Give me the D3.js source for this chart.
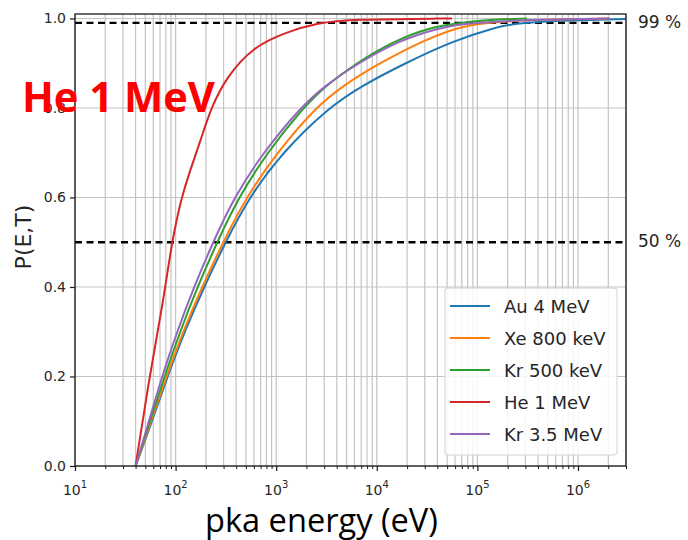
<!DOCTYPE html>
<html>
<head>
<meta charset="utf-8">
<script src="https://cdn.jsdelivr.net/npm/d3@7"></script>
<style>
  html, body { margin: 0; padding: 0; background: #fff; }
  svg { display: block; }
</style>
</head>
<body>
<svg id="chart" width="688" height="540"></svg>
<script>
// Series: P(E,T) as a function of pka energy (eV), one array per ion
const seriesNames = ["Au 4 MeV", "Xe 800 keV", "Kr 500 keV", "He 1 MeV", "Kr 3.5 MeV"];
const seriesColors = ["#1f77b4", "#ff7f0e", "#2ca02c", "#d62728", "#9467bd"];

const au4MeV = [[40,0],[58.3,0.1],[83.1,0.2],[122.6,0.3],[191.6,0.4],[313,0.5],[536,0.6],[1142,0.7],
  [3273,0.8],[7128,0.85],[19070,0.9],[57220,0.95],[149600,0.98],[247500,0.99],[832600,0.996],[3000000,0.999]];
const xe800keV = [[40,0],[56.9,0.1],[81.2,0.2],[118.5,0.3],[183,0.4],[296,0.5],[501,0.6],[1019,0.7],
  [2431,0.8],[4613,0.85],[10610,0.9],[28400,0.95],[63300,0.98],[112100,0.99],[328800,0.997],[2080000,1.0]];
const kr500keV = [[40,0],[55.7,0.1],[77.6,0.2],[110.6,0.3],[165.1,0.4],[258,0.5],[422,0.6],[810,0.7],
  [1847,0.8],[3126,0.85],[6212,0.9],[14830,0.95],[33800,0.98],[64180,0.99],[133400,0.997],[311200,1.0]];
const he1MeV = [[40,0],[55.0,0.2],[75.8,0.37],[91.5,0.5],[114.5,0.6],[136.8,0.655],[178.8,0.73],[224.8,0.8],
  [322.1,0.87],[592.2,0.937],[1272,0.97],[2603,0.99],[5414,0.998],[55900,1.0]];
const kr3p5MeV = [[40,0],[54.4,0.1],[73.2,0.2],[103.3,0.3],[152.4,0.4],[235.4,0.5],[380.7,0.6],[739.5,0.7],
  [1724,0.8],[3056,0.85],[6504,0.9],[16240,0.95],[42490,0.98],[84400,0.99],[419000,0.998],[2080000,1.0]];

const seriesData = [au4MeV, xe800keV, kr500keV, he1MeV, kr3p5MeV];

// Axis ticks and reference levels
const xMajorTicks = [1e1, 1e2, 1e3, 1e4, 1e5, 1e6];
const xMajorExponents = ["1", "2", "3", "4", "5", "6"];
const yTicks = [0, 0.2, 0.4, 0.6, 0.8, 1.0];
const refLevels = [0.99, 0.5];
const refLabels = ["99 %", "50 %"];

const svg = d3.select("#chart");
const plotLeft = 75, plotRight = 626, plotTop = 14, plotBottom = 466;

const x = d3.scaleLog().domain([10, 3e6]).range([plotLeft, plotRight]);
const y = d3.scaleLinear().domain([0, 1.01]).range([plotBottom, plotTop]);

// minor ticks: 2..9 × each decade within the domain
const xMinorTicks = [];
for (let e = 1; e <= 6; e++) {
  for (let m = 2; m <= 9; m++) {
    const v = m * Math.pow(10, e);
    if (v <= 3e6) xMinorTicks.push(v);
  }
}

const gridColor = "#c4c4c4";
const textColor = "#262626";

// grid
const grid = svg.append("g");
grid.selectAll("line.vx").data(xMajorTicks.concat(xMinorTicks)).join("line")
  .attr("x1", d => x(d)).attr("x2", d => x(d))
  .attr("y1", plotTop).attr("y2", plotBottom)
  .attr("stroke", gridColor).attr("stroke-width", 1.2);
grid.selectAll("line.hy").data(yTicks).join("line")
  .attr("x1", plotLeft).attr("x2", plotRight)
  .attr("y1", d => y(d)).attr("y2", d => y(d))
  .attr("stroke", gridColor).attr("stroke-width", 1.2);

// clip
svg.append("clipPath").attr("id", "plotClip").append("rect")
  .attr("x", plotLeft).attr("y", plotTop)
  .attr("width", plotRight - plotLeft).attr("height", plotBottom - plotTop);

// reference dashed lines
svg.append("g").selectAll("line").data(refLevels).join("line")
  .attr("x1", plotLeft).attr("x2", plotRight)
  .attr("y1", d => y(d)).attr("y2", d => y(d))
  .attr("stroke", "#000").attr("stroke-width", 2.3)
  .attr("stroke-dasharray", "7,4.5");

// curves (smoothed B-spline through the sampled values)
const line = d3.line().x(d => x(d[0])).y(d => y(d[1])).curve(d3.curveBasis);
svg.append("g").attr("clip-path", "url(#plotClip)")
  .selectAll("path").data(seriesData).join("path")
  .attr("d", line)
  .attr("fill", "none")
  .attr("stroke", (d, i) => seriesColors[i])
  .attr("stroke-width", 2);

// frame
svg.append("rect").attr("x", plotLeft).attr("y", plotTop)
  .attr("width", plotRight - plotLeft).attr("height", plotBottom - plotTop)
  .attr("fill", "none").attr("stroke", "#1a1a1a").attr("stroke-width", 1.3);

// x axis
const xAxis = svg.append("g").attr("transform", `translate(0,${plotBottom})`)
  .call(d3.axisBottom(x).tickValues(xMajorTicks).tickSize(5).tickFormat(() => ""));
xAxis.select(".domain").remove();
xAxis.selectAll(".tick line").attr("stroke", "#1a1a1a").attr("stroke-width", 1.2);
const xMinorAxis = svg.append("g").attr("transform", `translate(0,${plotBottom})`)
  .call(d3.axisBottom(x).tickValues(xMinorTicks).tickSize(3).tickFormat(() => ""));
xMinorAxis.select(".domain").remove();
xMinorAxis.selectAll(".tick line").attr("stroke", "#1a1a1a").attr("stroke-width", 1);

const xl = svg.append("g").selectAll("text").data(xMajorTicks).join("text")
  .attr("x", d => x(d)).attr("y", 495)
  .attr("text-anchor", "middle")
  .attr("font-family", "DejaVu Sans").attr("font-size", 14).attr("fill", textColor);
xl.append("tspan").text("10");
xl.append("tspan").attr("dy", -7).attr("font-size", 10).text((d, i) => xMajorExponents[i]);

// y axis
const yAxis = svg.append("g").attr("transform", `translate(${plotLeft},0)`)
  .call(d3.axisLeft(y).tickValues(yTicks).tickSize(5).tickPadding(4).tickFormat(d3.format(".1f")));
yAxis.select(".domain").remove();
yAxis.selectAll(".tick line").attr("stroke", "#1a1a1a").attr("stroke-width", 1.2);
yAxis.selectAll(".tick text").attr("font-family", "DejaVu Sans").attr("font-size", 14).attr("fill", textColor);

// reference labels
svg.append("g").selectAll("text").data(refLevels).join("text")
  .attr("x", 638).attr("y", d => y(d) - 1)
  .attr("dominant-baseline", "central")
  .attr("font-family", "DejaVu Sans").attr("font-size", 17).attr("fill", textColor)
  .text((d, i) => refLabels[i]);

// helper: scale font so text spans a given width
function fitWidth(sel, width) {
  const fs = parseFloat(sel.attr("font-size"));
  const w = sel.node().getComputedTextLength();
  if (w > 0) sel.attr("font-size", fs * width / w);
  return sel;
}

// axis titles
fitWidth(svg.append("text")
  .attr("x", 205).attr("y", 532)
  .attr("font-family", "Open Sans").attr("font-size", 30).attr("fill", "#000")
  .text("pka energy (eV)"), 233);

svg.append("text")
  .attr("transform", "translate(31,237) rotate(-90)")
  .attr("text-anchor", "middle")
  .attr("font-family", "DejaVu Sans").attr("font-size", 22).attr("fill", textColor)
  .text("P(E,T)");

// highlighted series annotation
fitWidth(svg.append("text")
  .attr("x", 22).attr("y", 112)
  .attr("font-family", "Open Sans").attr("font-weight", 700)
  .attr("font-size", 40).attr("fill", "#ff0000")
  .text("He 1 MeV"), 193);

// legend
const legend = svg.append("g");
legend.append("rect")
  .attr("x", 445).attr("y", 288).attr("width", 172).attr("height", 167)
  .attr("rx", 3).attr("fill", "#fff").attr("fill-opacity", 0.85)
  .attr("stroke", "#d0d0d0").attr("stroke-width", 1);
const entries = legend.selectAll("g.entry").data(seriesNames).join("g")
  .attr("transform", (d, i) => `translate(0,${306 + i * 32})`);
entries.append("line")
  .attr("x1", 450).attr("x2", 490).attr("y1", 0).attr("y2", 0)
  .attr("stroke", (d, i) => seriesColors[i]).attr("stroke-width", 2);
entries.append("text")
  .attr("x", 504).attr("y", 0).attr("dominant-baseline", "central")
  .attr("font-family", "DejaVu Sans").attr("font-size", 18).attr("fill", textColor)
  .text(d => d);
</script>
</body>
</html>
